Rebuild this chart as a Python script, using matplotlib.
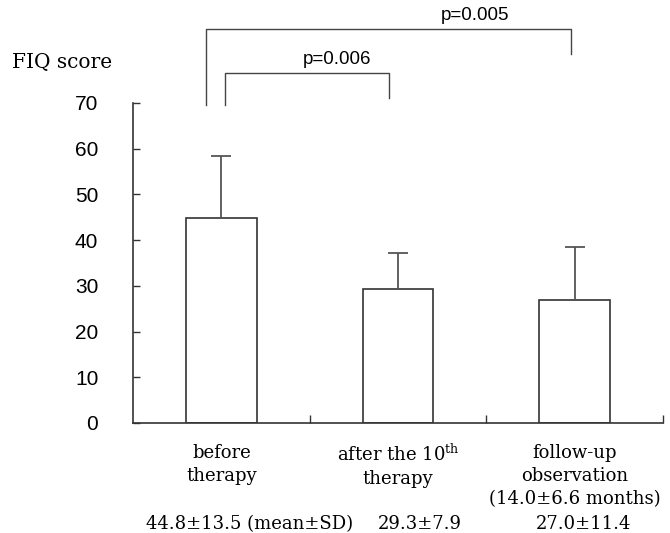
import matplotlib
matplotlib.use("Agg")
import matplotlib.pyplot as plt
from matplotlib.transforms import blended_transform_factory

# data
categories = ["before\ntherapy",
              "after the 10$^{\\mathrm{th}}$\ntherapy",
              "follow-up\nobservation\n(14.0\u00b16.6 months)"]
means = [44.8, 29.3, 27.0]
sds = [13.5, 7.9, 11.4]
y_ticks = [0, 10, 20, 30, 40, 50, 60, 70]
p_labels = ["p=0.006", "p=0.005"]

plt.rcParams["font.family"] = ["Liberation Sans", "DejaVu Sans"]
plt.rcParams["mathtext.fontset"] = "dejavuserif"

fig = plt.figure(figsize=(6.7, 5.33), dpi=100)
ax = fig.add_axes([133 / 670, 110 / 533, 530 / 670, 320 / 533])

x = list(range(len(means)))
edge = "#333333"

# bars with only the upper error bar
ax.bar(x, means, width=0.4, color="white", edgecolor=edge, linewidth=1.2, zorder=2)
ax.errorbar(x, means, yerr=[[0] * len(sds), sds], fmt="none", ecolor="#555555",
            elinewidth=1.3, capsize=7, capthick=1.3, zorder=3)

ax.set_xlim(-0.5, 2.5)
ax.set_ylim(0, 70)
ax.set_yticks(y_ticks)
ax.set_xticks([0.5, 1.5, 2.5])
ax.set_xticklabels([])
ax.tick_params(axis="y", direction="in", length=5, width=1, color=edge,
               labelsize=15, pad=25)
ax.tick_params(axis="x", direction="in", length=6, width=1, color=edge)
ax.spines["top"].set_visible(False)
ax.spines["right"].set_visible(False)
for s in ["left", "bottom"]:
    ax.spines[s].set_color(edge)
    ax.spines[s].set_linewidth(1.2)

# y axis title
fig.text(12 / 670, 1 - 68 / 533, "FIQ score", family="DejaVu Serif", fontsize=14.5,
         ha="left", va="baseline")

# significance brackets
br = "#444444"
ax.plot([0.02, 0.02, 0.95, 0.95], [69.6, 76.6, 76.6, 71.1], color=br, lw=1,
        clip_on=False)
ax.plot([-0.085, -0.085, 1.98, 1.98], [69.6, 86.2, 86.2, 80.7], color=br, lw=1,
        clip_on=False)
ax.text(0.655, 77.6, p_labels[0], ha="center", va="bottom", fontsize=13.5,
        clip_on=False)
ax.text(1.435, 87.2, p_labels[1], ha="center", va="bottom", fontsize=13.5,
        clip_on=False)

# category labels and summary row under the axis
trans = blended_transform_factory(ax.transData, fig.transFigure)
for xi, cat in zip(x, categories):
    ax.text(xi, 1 - 444 / 533, cat, transform=trans, ha="center", va="top",
            multialignment="center", family="DejaVu Serif", fontsize=13,
            linespacing=1.35)

stats = ["%.1f\u00b1%.1f" % (m, s) for m, s in zip(means, sds)]
stats[0] = stats[0] + " (mean\u00b1SD)"
stat_x = [0.158, 1.124, 2.05]
for sx, st in zip(stat_x, stats):
    ax.text(sx, 1 - 529 / 533, st, transform=trans, ha="center", va="baseline",
            family="DejaVu Serif", fontsize=13)

fig.savefig("out.png", dpi=100)
